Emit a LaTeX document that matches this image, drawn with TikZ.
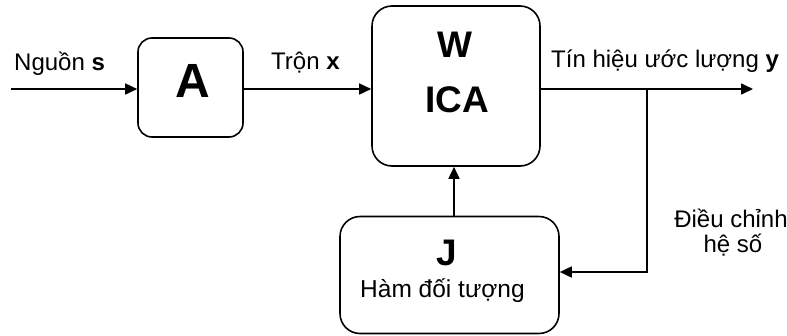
\documentclass[tikz,border=0pt]{standalone}
\usepackage{fontspec}
\setmainfont{Liberation Sans}
\usetikzlibrary{arrows.meta}
\begin{document}
\begin{tikzpicture}[x=1pt,y=-1pt,
  blk/.style={draw=black,line width=1.6pt,rounded corners=14pt,inner sep=0pt},
  conn/.style={draw=black,line width=1.6pt,-{Triangle[length=12pt,width=11pt]}},
  lbl/.style={inner sep=0pt,font=\fontsize{24}{27}\selectfont},
  big/.style={inner sep=0pt,font=\fontsize{37}{40}\selectfont\bfseries}]
\useasboundingbox (0,0) rectangle (787,335);
% boxes
\node[blk,minimum width=105pt,minimum height=99pt] (A) at (190.5,87.5) {};
\node[blk,rounded corners=20pt,minimum width=168pt,minimum height=160pt] (W) at (456,86) {};
\node[blk,rounded corners=20pt,minimum width=219pt,minimum height=117pt] (J) at (449.5,275) {};
% box texts
\node[big,anchor=base,font=\fontsize{48}{50}\selectfont\bfseries] (tA) at (192.5,97) {A};
\node[big,anchor=base] (tW) at (455,57) {W};
\node[big,anchor=base] (tICA) at (457,112) {ICA};
\node[big,anchor=base] (tJ) at (447,265) {J};
\node[lbl,anchor=base,font=\fontsize{24.5}{27}\selectfont] (tH) at (442.5,297) {Hàm đối tượng};
% labels
\node[lbl,anchor=base west] (ls) at (14,70) {Nguồn \textbf{s}};
\node[lbl,anchor=base west] (lx) at (271,69) {Trộn \textbf{x}};
\node[lbl,anchor=base west] (ly) at (551,67) {Tín hiệu ước lượng \textbf{y}};
\node[lbl,anchor=base] (ld1) at (731,227) {Điều chỉnh};
\node[lbl,anchor=base] (ld2) at (733,252) {hệ số};
% connectors
\coordinate (in) at (11,89);
\coordinate (out) at (753,89);
\coordinate (br) at (647,89);
\coordinate (fb) at (647,272);
\coordinate (up) at (454,216);
\draw[conn] (in) -- (in -| A.west);
\draw[conn] (A.east |- in) -- (W.west |- in);
\draw[conn] (W.east |- out) -- (out);
\draw[conn,rounded corners=0pt] (br) -- (fb) -- (fb -| J.east);
\draw[conn] (up) -- (up |- W.south);
\end{tikzpicture}
\end{document}
